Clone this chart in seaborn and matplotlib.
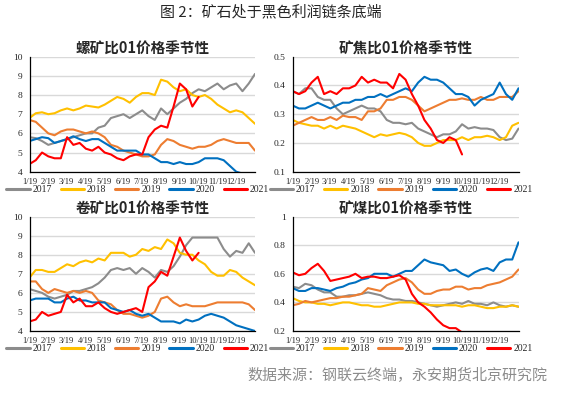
import matplotlib
matplotlib.use("Agg")
import numpy as np
import pandas as pd
import matplotlib.pyplot as plt
import seaborn as sns

# ---------------- data ----------------
years = ["2017", "2018", "2019", "2020", "2021"]
year_colors = ["#8C8C8C", "#FFC000", "#ED7D31", "#0070C0", "#FF0000"]
month_labels = ["1/19", "2/19", "3/19", "4/19", "5/19", "6/19",
                "7/19", "8/19", "9/19", "10/19", "11/19", "12/19"]

main_title = "图 2：矿石处于黑色利润链条底端"
source_text = "数据来源：钢联云终端，永安期货北京研究院"
panel_titles = ["螺矿比01价格季节性", "矿焦比01价格季节性",
                "卷矿比01价格季节性", "矿煤比01价格季节性"]

# 螺矿比 (rebar / ore)
rb_2017 = [5.8, 5.75, 5.6, 5.4, 5.5, 5.6, 5.7, 5.8, 5.9, 6.0, 6.0, 6.3, 6.4, 6.8, 6.9, 7.0, 6.8, 7.0, 7.2,
           6.9, 6.7, 7.3, 7.0, 7.3, 7.6, 7.8, 8.1, 8.3, 8.2, 8.4, 8.6, 8.3, 8.5, 8.6, 8.2, 8.6, 9.1]
rb_2018 = [6.8, 7.05, 7.1, 7.0, 7.05, 7.2, 7.3, 7.2, 7.3, 7.45, 7.4, 7.35, 7.5, 7.7, 7.9, 7.8, 7.6, 7.9, 8.1,
           8.1, 8.0, 8.8, 8.7, 8.4, 8.2, 8.3, 8.0, 7.9, 8.0, 7.8, 7.5, 7.3, 7.1, 7.2, 7.1, 6.8, 6.5]
rb_2019 = [6.7, 6.6, 6.3, 6.0, 5.9, 6.1, 6.2, 6.2, 6.1, 6.0, 6.1, 6.0, 5.8, 5.4, 5.3, 5.1, 5.0, 4.9, 4.8,
           4.8, 4.9, 5.4, 5.7, 5.6, 5.4, 5.3, 5.2, 5.3, 5.3, 5.4, 5.6, 5.7, 5.6, 5.5, 5.5, 5.5, 5.1]
rb_2020 = [5.6, 5.7, 5.8, 5.75, 5.5, 5.6, 5.7, 5.85, 5.7, 5.6, 5.7, 5.7, 5.5, 5.3, 5.1, 5.1, 5.1, 5.1, 4.9,
           4.9, 4.7, 4.5, 4.5, 4.4, 4.5, 4.4, 4.4, 4.5, 4.7, 4.7, 4.7, 4.6, 4.3, 4.0, 3.9, 3.8, 3.7]
rb_2021 = [4.4, 4.6, 5.0, 4.8, 4.7, 4.7, 5.8, 5.4, 5.5, 5.2, 5.1, 5.3, 5.0, 4.9, 4.7, 4.6, 4.8, 4.9, 4.9,
           5.8, 6.2, 6.4, 6.3, 7.4, 8.6, 8.3, 7.4, 7.9]

# 矿焦比 (ore / coke)
jt_2017 = [0.38, 0.37, 0.39, 0.39, 0.36, 0.35, 0.35, 0.32, 0.30, 0.31, 0.32, 0.33, 0.32, 0.32, 0.31, 0.28,
           0.27, 0.27, 0.265, 0.27, 0.25, 0.24, 0.23, 0.22, 0.23, 0.23, 0.24, 0.265, 0.25, 0.255, 0.25, 0.25,
           0.245, 0.22, 0.21, 0.215, 0.25]
jt_2018 = [0.28, 0.27, 0.265, 0.26, 0.26, 0.25, 0.26, 0.25, 0.26, 0.255, 0.25, 0.24, 0.23, 0.22, 0.23, 0.225,
           0.23, 0.235, 0.23, 0.22, 0.20, 0.19, 0.19, 0.20, 0.21, 0.21, 0.21, 0.22, 0.21, 0.22, 0.22, 0.225,
           0.22, 0.21, 0.22, 0.26, 0.27]
jt_2019 = [0.26, 0.27, 0.28, 0.29, 0.28, 0.28, 0.29, 0.28, 0.295, 0.29, 0.29, 0.28, 0.31, 0.31, 0.32, 0.35,
           0.35, 0.36, 0.36, 0.35, 0.33, 0.31, 0.32, 0.33, 0.34, 0.35, 0.35, 0.355, 0.35, 0.35, 0.36, 0.35,
           0.35, 0.36, 0.36, 0.36, 0.38]
jt_2020 = [0.33, 0.32, 0.32, 0.33, 0.34, 0.33, 0.32, 0.33, 0.34, 0.34, 0.35, 0.35, 0.36, 0.36, 0.37, 0.36,
           0.37, 0.38, 0.39, 0.38, 0.41, 0.43, 0.42, 0.42, 0.41, 0.39, 0.37, 0.37, 0.36, 0.33, 0.35, 0.36,
           0.37, 0.41, 0.37, 0.35, 0.39]
jt_2021 = [0.38, 0.37, 0.38, 0.41, 0.43, 0.37, 0.38, 0.37, 0.39, 0.39, 0.40, 0.43, 0.41, 0.42, 0.41, 0.41,
           0.39, 0.44, 0.42, 0.37, 0.33, 0.28, 0.25, 0.21, 0.20, 0.22, 0.21, 0.16]

# 卷矿比 (hot coil / ore)
hc_2017 = [6.2, 6.1, 6.0, 5.8, 5.7, 5.8, 5.9, 6.1, 6.1, 6.2, 6.3, 6.5, 6.8, 7.2, 7.3, 7.2, 7.3, 7.0, 7.3,
           7.1, 6.8, 7.2, 7.1, 7.4, 7.9, 8.5, 8.9, 8.9, 8.9, 8.9, 8.9, 8.3, 7.9, 8.2, 8.1, 8.6, 8.1]
hc_2018 = [6.8, 7.2, 7.2, 7.1, 7.1, 7.3, 7.5, 7.4, 7.6, 7.7, 7.6, 7.8, 7.7, 8.1, 8.1, 8.1, 7.9, 8.0, 8.3,
           8.2, 8.4, 8.3, 8.8, 8.6, 8.1, 8.0, 8.0, 7.7, 7.5, 7.1, 6.9, 6.9, 7.2, 7.1, 6.8, 6.6, 6.4]
hc_2019 = [6.6, 6.6, 6.2, 6.0, 6.2, 6.1, 6.0, 6.1, 6.0, 6.1, 6.0, 5.6, 5.5, 5.4, 5.1, 4.9, 4.9, 4.8, 4.7,
           4.8, 5.0, 5.7, 5.8, 5.5, 5.3, 5.4, 5.3, 5.3, 5.3, 5.4, 5.5, 5.5, 5.5, 5.5, 5.5, 5.4, 5.1]
hc_2020 = [5.6, 5.7, 5.7, 5.7, 5.5, 5.5, 5.7, 5.8, 5.6, 5.6, 5.5, 5.5, 5.5, 5.2, 5.1, 5.0, 5.1, 4.9, 4.8,
           4.9, 4.7, 4.5, 4.5, 4.5, 4.4, 4.6, 4.5, 4.6, 4.8, 4.9, 4.8, 4.7, 4.5, 4.3, 4.2, 4.1, 4.0]
hc_2021 = [4.5, 4.6, 5.0, 4.8, 4.9, 5.0, 5.9, 5.5, 5.7, 5.3, 5.3, 5.5, 5.2, 5.0, 4.9, 5.0, 5.1, 5.2, 5.0,
           6.3, 6.6, 7.1, 6.9, 7.9, 8.9, 8.2, 7.7, 8.1]

# 矿煤比 (ore / coking coal)
mm_2017 = [0.51, 0.50, 0.53, 0.52, 0.49, 0.47, 0.47, 0.44, 0.44, 0.45, 0.45, 0.46, 0.47, 0.46, 0.45, 0.43,
           0.42, 0.42, 0.41, 0.41, 0.40, 0.39, 0.38, 0.37, 0.38, 0.39, 0.40, 0.39, 0.41, 0.39, 0.39, 0.38,
           0.40, 0.38, 0.37, 0.38, 0.37]
mm_2018 = [0.43, 0.41, 0.40, 0.40, 0.39, 0.39, 0.38, 0.39, 0.40, 0.40, 0.39, 0.38, 0.38, 0.37, 0.37, 0.38,
           0.39, 0.40, 0.40, 0.40, 0.39, 0.39, 0.38, 0.38, 0.38, 0.38, 0.38, 0.37, 0.38, 0.38, 0.37, 0.36,
           0.36, 0.37, 0.37, 0.38, 0.37]
mm_2019 = [0.38, 0.39, 0.41, 0.40, 0.41, 0.42, 0.43, 0.43, 0.44, 0.44, 0.45, 0.46, 0.50, 0.49, 0.48, 0.52,
           0.54, 0.56, 0.57, 0.54, 0.49, 0.46, 0.46, 0.48, 0.49, 0.49, 0.51, 0.51, 0.49, 0.50, 0.50, 0.52,
           0.53, 0.54, 0.56, 0.58, 0.63]
mm_2020 = [0.50, 0.48, 0.48, 0.50, 0.50, 0.49, 0.48, 0.50, 0.51, 0.53, 0.54, 0.56, 0.57, 0.60, 0.60, 0.60,
           0.58, 0.60, 0.62, 0.62, 0.66, 0.70, 0.68, 0.67, 0.66, 0.62, 0.63, 0.60, 0.58, 0.61, 0.63, 0.64,
           0.62, 0.68, 0.70, 0.70, 0.82]
mm_2021 = [0.61, 0.59, 0.60, 0.64, 0.67, 0.62, 0.55, 0.56, 0.57, 0.58, 0.60, 0.57, 0.58, 0.58, 0.57, 0.57,
           0.58, 0.59, 0.56, 0.46, 0.40, 0.37, 0.33, 0.28, 0.24, 0.22, 0.22, 0.19]

rb_ticks = [4, 5, 6, 7, 8, 9, 10]
jt_ticks = [0.1, 0.2, 0.3, 0.4, 0.5]
hc_ticks = [4, 5, 6, 7, 8, 9, 10]
mm_ticks = [0.2, 0.4, 0.6, 0.8, 1.0]

# ---------------- style ----------------
sns.set_style("white")
plt.rcParams["font.family"] = ["Noto Sans CJK SC", "DejaVu Sans"]
cjk = ["Noto Sans CJK SC", "DejaVu Sans"]
tick_font = "Liberation Serif"

fig = plt.figure(figsize=(5.65, 3.94), dpi=100)
W, H = 565.0, 394.0

dates = pd.date_range("2001-01-19", "2002-01-19", periods=37)
tick_dates = pd.date_range("2001-01-01", periods=12, freq="MS") + pd.Timedelta(days=18)
palette = dict(zip(years, year_colors))


def make_df(series_list):
    parts = []
    for y, vals in zip(years, series_list):
        parts.append(pd.DataFrame({"date": dates[:len(vals)], "value": vals, "year": y}))
    return pd.concat(parts, ignore_index=True)


def px_rect(x0, x1, y0, y1):
    return [x0 / W, 1 - y1 / H, (x1 - x0) / W, (y1 - y0) / H]


panels = [
    (panel_titles[0], [rb_2017, rb_2018, rb_2019, rb_2020, rb_2021], rb_ticks, px_rect(29.5, 255, 56.7, 171.7)),
    (panel_titles[1], [jt_2017, jt_2018, jt_2019, jt_2020, jt_2021], jt_ticks, px_rect(292.7, 518.5, 56.7, 171.7)),
    (panel_titles[2], [hc_2017, hc_2018, hc_2019, hc_2020, hc_2021], hc_ticks, px_rect(29.5, 255, 216.6, 331)),
    (panel_titles[3], [mm_2017, mm_2018, mm_2019, mm_2020, mm_2021], mm_ticks, px_rect(292.7, 518.5, 216.6, 331)),
]

for title, series, yticks, rect in panels:
    ax = fig.add_axes(rect)
    df = make_df(series)
    sns.lineplot(data=df, x="date", y="value", hue="year", palette=palette,
                 linewidth=1.5, ax=ax, legend=True)
    ax.set_xlim(dates[0], dates[-1])
    ax.set_ylim(yticks[0], yticks[-1])
    ax.set_yticks(yticks)
    ax.set_yticklabels([f"{v:g}" for v in yticks])
    ax.set_xticks(tick_dates)
    ax.set_xticklabels(month_labels)
    ax.set_xlabel("")
    ax.set_ylabel("")
    ax.yaxis.grid(True, color="#D9D9D9", linewidth=1.0)
    ax.xaxis.grid(False)
    ax.set_axisbelow(True)
    for s in ["top", "right"]:
        ax.spines[s].set_visible(False)
    ax.spines["left"].set_color("#000000")
    ax.spines["left"].set_linewidth(0.9)
    ax.spines["bottom"].set_color("#000000")
    ax.spines["bottom"].set_linewidth(0.9)
    ax.tick_params(axis="x", direction="out", length=3, width=0.8, color="#000000",
                   pad=1.5, labelsize=6.2)
    ax.tick_params(axis="y", length=0, pad=5, labelsize=6.8)
    for lab in ax.get_xticklabels() + ax.get_yticklabels():
        lab.set_fontfamily(tick_font)
    ax.set_title(title, fontsize=10.5, fontweight="bold", pad=2, family=cjk)
    handles, labels = ax.get_legend_handles_labels()
    ax.get_legend().remove()
    leg = ax.legend(handles, labels, loc="center", bbox_to_anchor=(0.48, -0.155),
                    ncol=5, frameon=False, handlelength=2.4, handletextpad=0.3,
                    columnspacing=0.9, borderaxespad=0,
                    prop={"family": tick_font, "size": 7})
    for line in leg.get_lines():
        line.set_linewidth(2.2)

fig.text(271 / W, 1 - 12 / H, main_title, ha="center", va="center",
         fontsize=10.8, color="#262626", family=cjk)
fig.text(547 / W, 1 - 375 / H, source_text, ha="right", va="center",
         fontsize=10.8, color="#8C8C8C", family=cjk)

fig.savefig("out.png", dpi=100)
